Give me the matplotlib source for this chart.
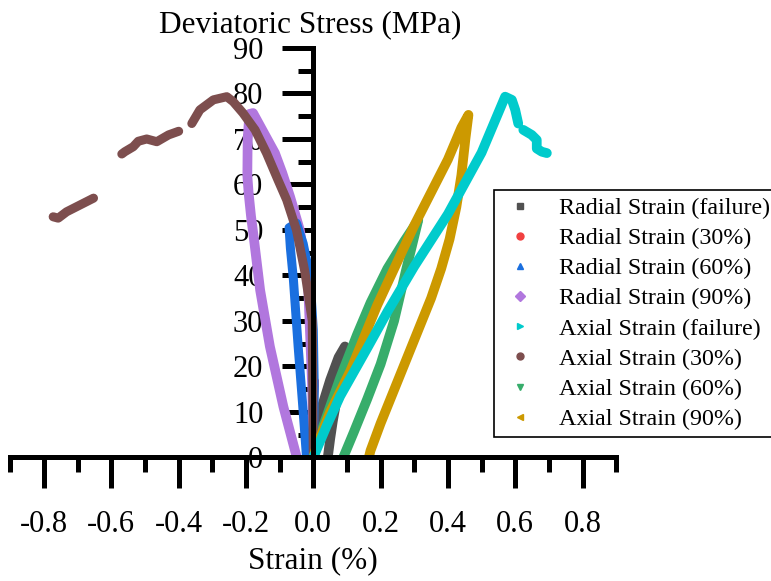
import numpy as np
import matplotlib
matplotlib.use("Agg")
import matplotlib.pyplot as plt
from matplotlib.lines import Line2D
from matplotlib.ticker import MultipleLocator

plt.rcParams['font.family'] = ['Liberation Serif', 'DejaVu Serif']
plt.rcParams['axes.unicode_minus'] = False

# ---------------- data (strain %, deviatoric stress MPa) ----------------
nan = np.nan
radial_fail_x = [0.0, 0.01, 0.025, 0.05, 0.075, 0.094, 0.085, 0.07, 0.058, 0.05, 0.043]
radial_fail_y = [0.0, 5.0, 11.0, 17.0, 22.0, 24.4, 19.0, 13.0, 8.0, 4.0, 0.0]

radial_30_x = [0.0, 0.004, 0.01, 0.006, 0.002]
radial_30_y = [0.0, 8.0, 17.0, 8.0, 0.0]

radial_60_x = [0.0, 0.003, 0.0, -0.01, -0.03, -0.05, -0.072, -0.068, -0.059, -0.045, -0.032, -0.02]
radial_60_y = [0.0, 15.0, 28.0, 39.7, 47.0, 51.5, 50.5, 46.0, 39.0, 24.4, 12.0, 0.0]

radial_90_x = [0.0, -0.003, -0.016, -0.04, -0.069, -0.092, -0.114, -0.148, -0.179, -0.19,
               -0.195, -0.196, -0.192, -0.185, -0.178, -0.158, -0.129, -0.089, -0.049]
radial_90_y = [0.0, 15.0, 39.0, 50.0, 57.3, 62.5, 66.9, 71.5, 75.7, 75.5,
               70.0, 62.0, 58.0, 53.0, 49.0, 36.8, 24.4, 11.2, 0.0]

axial_fail_x = [0.0, 0.04, 0.08, 0.16, 0.22, 0.3, 0.4, 0.5, 0.57,
                0.59, 0.6, 0.609, nan, 0.624, 0.649, 0.664, 0.664, 0.679, 0.694, nan, 0.698]
axial_fail_y = [0.0, 7.0, 13.5, 24.0, 32.0, 42.0, 53.5, 67.0, 79.3,
                78.6, 76.4, 73.4, nan, 72.0, 70.9, 69.8, 67.9, 67.2, 66.9, nan, 64.3]

axial_30_x = [0.0, -0.003, -0.025, -0.05, -0.079, -0.105, -0.139, -0.173, -0.209, -0.238,
              -0.257, -0.297, -0.337, -0.361, nan, -0.4, -0.43, -0.465, -0.495, -0.52,
              -0.535, -0.56, -0.569, nan, -0.594, nan, -0.653, -0.693, -0.733, -0.758, -0.773]
axial_30_y = [0.0, 30.0, 40.8, 50.0, 56.6, 61.0, 66.9, 72.0, 75.7, 78.2,
              79.3, 78.6, 76.4, 73.4, nan, 71.7, 70.9, 69.4, 70.0, 69.5,
              68.3, 67.2, 66.7, nan, 64.3, nan, 57.0, 55.5, 54.0, 52.6, 52.9]

axial_60_x = [0.0, 0.03, 0.08, 0.13, 0.17, 0.22, 0.27, 0.312,
              0.275, 0.24, 0.2, 0.16, 0.12, 0.089]
axial_60_y = [0.0, 7.0, 17.5, 27.0, 34.0, 41.5, 47.5, 52.2,
              41.0, 30.0, 20.5, 12.8, 5.5, 0.0]

axial_90_x = [0.0, 0.01, 0.05, 0.11, 0.19, 0.3, 0.4, 0.44, 0.461,
              0.452, 0.44, 0.425, 0.405, 0.38, 0.35, 0.32, 0.29, 0.26, 0.23, 0.2, 0.17, 0.165]
axial_90_y = [0.0, 2.5, 10.0, 19.0, 33.5, 51.0, 65.5, 72.5, 75.3,
              70.0, 62.0, 55.0, 48.0, 41.5, 35.0, 29.5, 24.0, 18.5, 13.0, 7.5, 1.5, 0.0]

labels = ["Radial Strain (failure)", "Radial Strain (30%)", "Radial Strain (60%)",
          "Radial Strain (90%)", "Axial Strain (failure)", "Axial Strain (30%)",
          "Axial Strain (60%)", "Axial Strain (90%)"]
colors = ["#515151", "#F14040", "#1A6FDF", "#B177DE", "#00CBCC", "#7D4E4E", "#37AD6B", "#CC9900"]
markers = ["s", "o", "^", "D", ">", "o", "v", "<"]
xs = [radial_fail_x, radial_30_x, radial_60_x, radial_90_x,
      axial_fail_x, axial_30_x, axial_60_x, axial_90_x]
ys = [radial_fail_y, radial_30_y, radial_60_y, radial_90_y,
      axial_fail_y, axial_30_y, axial_60_y, axial_90_y]
zorders = [2, 2.5, 3, 2.2, 5, 4, 3, 4]
widths = [7, 3, 6.5, 7, 7, 6.5, 7, 7]

fig = plt.figure(figsize=(7.71, 5.81), dpi=100)
ax = fig.add_axes([0.0135, 0.2126, 0.7857, 0.7048])

for x, y, c, z, w in zip(xs, ys, colors, zorders, widths):
    ax.plot(x, y, color=c, lw=w, zorder=z, solid_capstyle='round', solid_joinstyle='round')

ax.set_xlim(-0.9, 0.9)
ax.set_ylim(0, 90)

for s in ['top', 'right']:
    ax.spines[s].set_visible(False)
ax.spines['left'].set_position(('data', 0))
ax.spines['bottom'].set_position(('data', 0))
for s in ['left', 'bottom']:
    ax.spines[s].set_linewidth(3.6)
    ax.spines[s].set_capstyle('projecting')
    ax.spines[s].set_zorder(6)

xticks = [-0.8, -0.6, -0.4, -0.2, 0.0, 0.2, 0.4, 0.6, 0.8]
ax.set_xticks(xticks)
ax.set_xticklabels([f"{v:.1f}" for v in xticks])
ax.xaxis.set_minor_locator(MultipleLocator(0.1))
ax.yaxis.set_major_locator(MultipleLocator(10))
ax.yaxis.set_minor_locator(MultipleLocator(5))

ax.tick_params(axis='x', which='major', direction='out', length=22, width=3.6, pad=16, labelsize=22)
ax.tick_params(axis='x', which='minor', direction='out', length=10.5, width=3.6)
ax.tick_params(axis='y', which='major', direction='out', length=22, width=3.6, pad=14, labelsize=22)
ax.tick_params(axis='y', which='minor', direction='out', length=10.5, width=3.6)

ax.set_xlabel("Strain (%)", fontsize=22.5, va='center', ha='center')
ax.xaxis.set_label_coords(0.5, -0.2527)
ax.set_ylabel("Deviatoric Stress (MPa)", fontsize=22.5, rotation=0, va='center', ha='center')
ax.yaxis.set_label_coords(0.4946, 1.056)

handles = [Line2D([], [], linestyle='none', marker=m, color=c, markersize=5)
           for m, c in zip(markers, colors)]
leg = fig.legend(handles, labels, loc='upper left', bbox_to_anchor=(494 / 771, 1 - 190 / 581),
                 bbox_transform=fig.transFigure, borderaxespad=0, fontsize=17.25,
                 frameon=True, fancybox=False, edgecolor='black', framealpha=1,
                 borderpad=0.3, handlelength=1.6, handletextpad=0.8, labelspacing=0.35)
leg.get_frame().set_linewidth(1.2)

fig.savefig("out.png", dpi=100)
